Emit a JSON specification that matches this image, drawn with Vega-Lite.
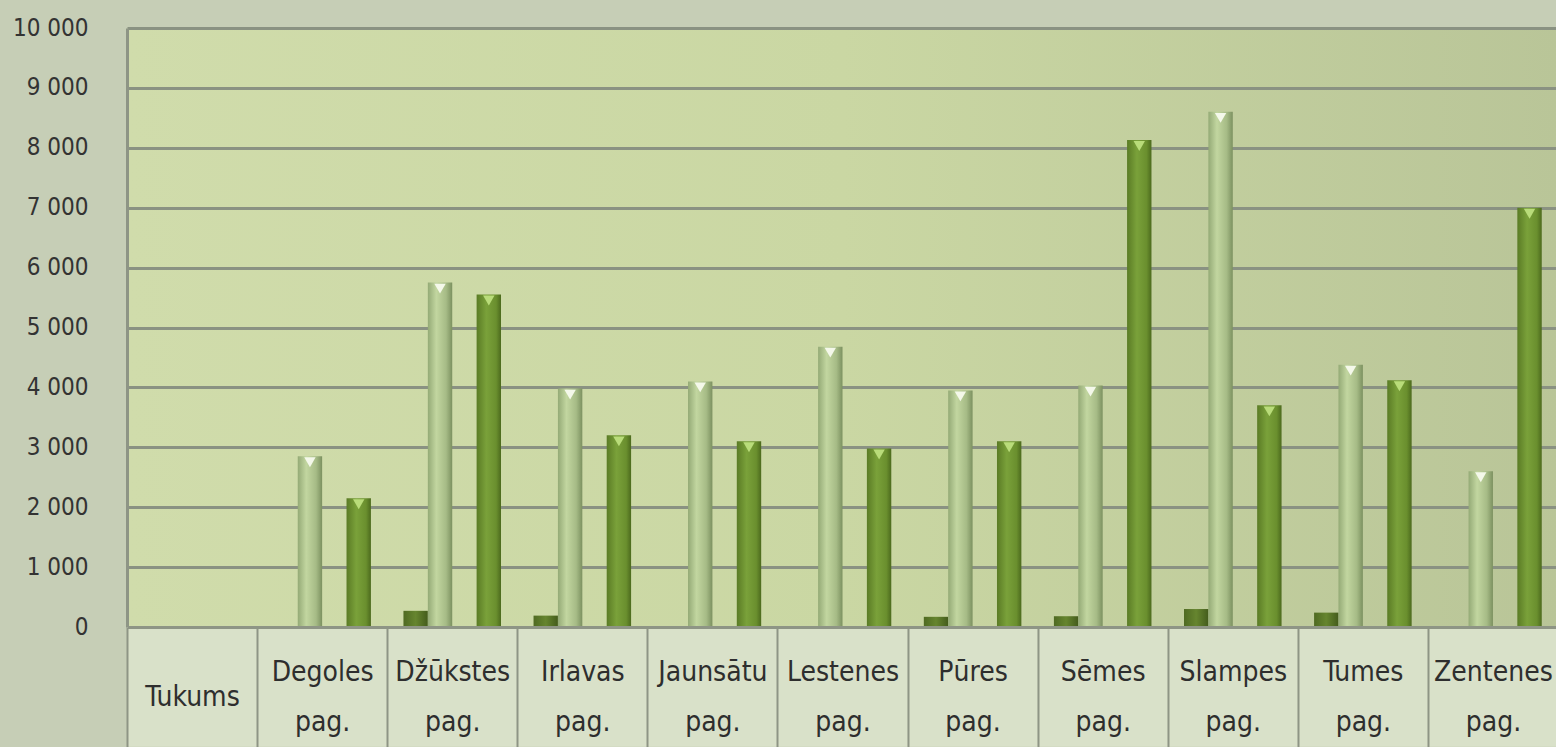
{
  "$schema": "https://vega.github.io/schema/vega-lite/v6.json",
  "width": 1431,
  "height": 599,
  "autosize": {"type": "none"},
  "padding": {"left": 127, "top": 28, "right": 0, "bottom": 120},
  "background": "#c6ceb6",
  "config": {
    "view": {
      "fill": {"gradient": "linear", "x1": 0, "x2": 1, "y1": 0, "y2": 0,
        "stops": [{"offset": 0, "color": "#d0dcab"}, {"offset": 0.5, "color": "#cad7a3"}, {"offset": 1, "color": "#b9c598"}]},
      "stroke": null
    },
    "font": "DejaVu Sans Condensed, Liberation Sans, sans-serif"
  },
  "datasets": {
    "cats": [
      {"cat": "Tukums"}, {"cat": "Degoles pag."}, {"cat": "Džūkstes pag."}, {"cat": "Irlavas pag."},
      {"cat": "Jaunsātu pag."}, {"cat": "Lestenes pag."}, {"cat": "Pūres pag."}, {"cat": "Sēmes pag."},
      {"cat": "Slampes pag."}, {"cat": "Tumes pag."}, {"cat": "Zentenes pag."}
    ],
    "vals": [
      {"cat": "Degoles pag.", "series": "s2", "value": 2850},
      {"cat": "Degoles pag.", "series": "s4", "value": 2150},
      {"cat": "Džūkstes pag.", "series": "s1", "value": 270},
      {"cat": "Džūkstes pag.", "series": "s2", "value": 5750},
      {"cat": "Džūkstes pag.", "series": "s4", "value": 5550},
      {"cat": "Irlavas pag.", "series": "s1", "value": 190},
      {"cat": "Irlavas pag.", "series": "s2", "value": 3980},
      {"cat": "Irlavas pag.", "series": "s4", "value": 3200},
      {"cat": "Jaunsātu pag.", "series": "s2", "value": 4100},
      {"cat": "Jaunsātu pag.", "series": "s4", "value": 3100},
      {"cat": "Lestenes pag.", "series": "s2", "value": 4680},
      {"cat": "Lestenes pag.", "series": "s4", "value": 2980},
      {"cat": "Pūres pag.", "series": "s1", "value": 170},
      {"cat": "Pūres pag.", "series": "s2", "value": 3950},
      {"cat": "Pūres pag.", "series": "s4", "value": 3100},
      {"cat": "Sēmes pag.", "series": "s1", "value": 180},
      {"cat": "Sēmes pag.", "series": "s2", "value": 4030},
      {"cat": "Sēmes pag.", "series": "s4", "value": 8130},
      {"cat": "Slampes pag.", "series": "s1", "value": 300},
      {"cat": "Slampes pag.", "series": "s2", "value": 8600},
      {"cat": "Slampes pag.", "series": "s4", "value": 3700},
      {"cat": "Tumes pag.", "series": "s1", "value": 240},
      {"cat": "Tumes pag.", "series": "s2", "value": 4380},
      {"cat": "Tumes pag.", "series": "s4", "value": 4120},
      {"cat": "Zentenes pag.", "series": "s2", "value": 2600},
      {"cat": "Zentenes pag.", "series": "s4", "value": 7000}
    ]
  },
  "encoding": {
    "x": {
      "field": "cat", "type": "nominal", "sort": null,
      "scale": {
        "domain": ["Tukums", "Degoles pag.", "Džūkstes pag.", "Irlavas pag.", "Jaunsātu pag.", "Lestenes pag.", "Pūres pag.", "Sēmes pag.", "Slampes pag.", "Tumes pag.", "Zentenes pag."],
        "paddingInner": 0, "paddingOuter": 0
      },
      "axis": {
        "title": null,
        "labelAngle": 0,
        "labelExpr": "split(datum.label, ' ')",
        "labelFont": "DejaVu Sans Condensed, Liberation Sans, sans-serif",
        "labelFontSize": 28,
        "labelColor": "#2e2e2e",
        "labelBaseline": "middle",
        "labelLineHeight": 50,
        "labelPadding": {"condition": {"test": "datum.value === 'Tukums'", "value": -50}, "value": -75},
        "labelLimit": 200,
        "labelOverlap": false,
        "tickBand": "extent",
        "tickSize": 120,
        "tickColor": "#8e9585",
        "tickWidth": 2,
        "domainColor": "#8e9585",
        "domainWidth": 3,
        "zindex": 1
      }
    }
  },
  "layer": [
    {
      "data": {"name": "cats"},
      "mark": {"type": "bar", "fill": "#d9e1c9", "clip": false},
      "encoding": {
        "y": {"datum": 0, "type": "quantitative"},
        "y2": {"datum": -2000}
      }
    },
    {
      "data": {"name": "vals"},
      "transform": [{"filter": "datum.series === 's1'"}],
      "mark": {
        "type": "bar",
        "color": {"gradient": "linear", "x1": 0, "x2": 1, "y1": 0, "y2": 0,
          "stops": [{"offset": 0, "color": "#4f6a22"}, {"offset": 0.5, "color": "#66852f"}, {"offset": 1, "color": "#445c1c"}]}
      },
      "encoding": {
        "xOffset": {"field": "series", "type": "nominal", "scale": {"domain": ["s1", "s2", "s3", "s4"], "paddingInner": 0, "paddingOuter": 0.667}},
        "y": {
          "field": "value", "type": "quantitative",
          "scale": {"domain": [0, 10000]},
          "axis": {
            "title": null,
            "values": [0, 1000, 2000, 3000, 4000, 5000, 6000, 7000, 8000, 9000, 10000],
            "labelExpr": "replace(format(datum.value, ','), ',', ' ')",
            "labelFontSize": 24,
            "labelColor": "#333333",
            "labelPadding": 39,
            "ticks": false,
            "grid": true,
            "gridColor": "#8a9282",
            "gridWidth": 3,
            "domainColor": "#8e9585",
            "domainWidth": 3,
            "zindex": 0
          }
        }
      }
    },
    {
      "data": {"name": "vals"},
      "transform": [{"filter": "datum.series === 's2'"}],
      "mark": {
        "type": "bar",
        "color": {"gradient": "linear", "x1": 0, "x2": 1, "y1": 0, "y2": 0,
          "stops": [{"offset": 0, "color": "#94aa76"}, {"offset": 0.35, "color": "#c2d6a0"}, {"offset": 0.75, "color": "#a6bb86"}, {"offset": 1, "color": "#7c9160"}]}
      },
      "encoding": {
        "xOffset": {"field": "series", "type": "nominal"},
        "y": {"field": "value", "type": "quantitative"}
      }
    },
    {
      "data": {"name": "vals"},
      "transform": [{"filter": "datum.series === 's4'"}],
      "mark": {
        "type": "bar",
        "color": {"gradient": "linear", "x1": 0, "x2": 1, "y1": 0, "y2": 0,
          "stops": [{"offset": 0, "color": "#5a7b25"}, {"offset": 0.4, "color": "#7aa13a"}, {"offset": 0.8, "color": "#6a8f2e"}, {"offset": 1, "color": "#4c6a1d"}]}
      },
      "encoding": {
        "xOffset": {"field": "series", "type": "nominal"},
        "y": {"field": "value", "type": "quantitative"}
      }
    },
    {
      "data": {"name": "vals"},
      "transform": [{"filter": "datum.series === 's2'"}],
      "mark": {"type": "point", "shape": "triangle-down", "filled": true, "size": 130, "yOffset": 6, "color": "#f4f8ea", "opacity": 1},
      "encoding": {
        "xOffset": {"field": "series", "type": "nominal"},
        "y": {"field": "value", "type": "quantitative"}
      }
    },
    {
      "data": {"name": "vals"},
      "transform": [{"filter": "datum.series === 's4'"}],
      "mark": {"type": "point", "shape": "triangle-down", "filled": true, "size": 130, "yOffset": 6, "color": "#b9dc7a", "opacity": 1},
      "encoding": {
        "xOffset": {"field": "series", "type": "nominal"},
        "y": {"field": "value", "type": "quantitative"}
      }
    }
  ]
}
